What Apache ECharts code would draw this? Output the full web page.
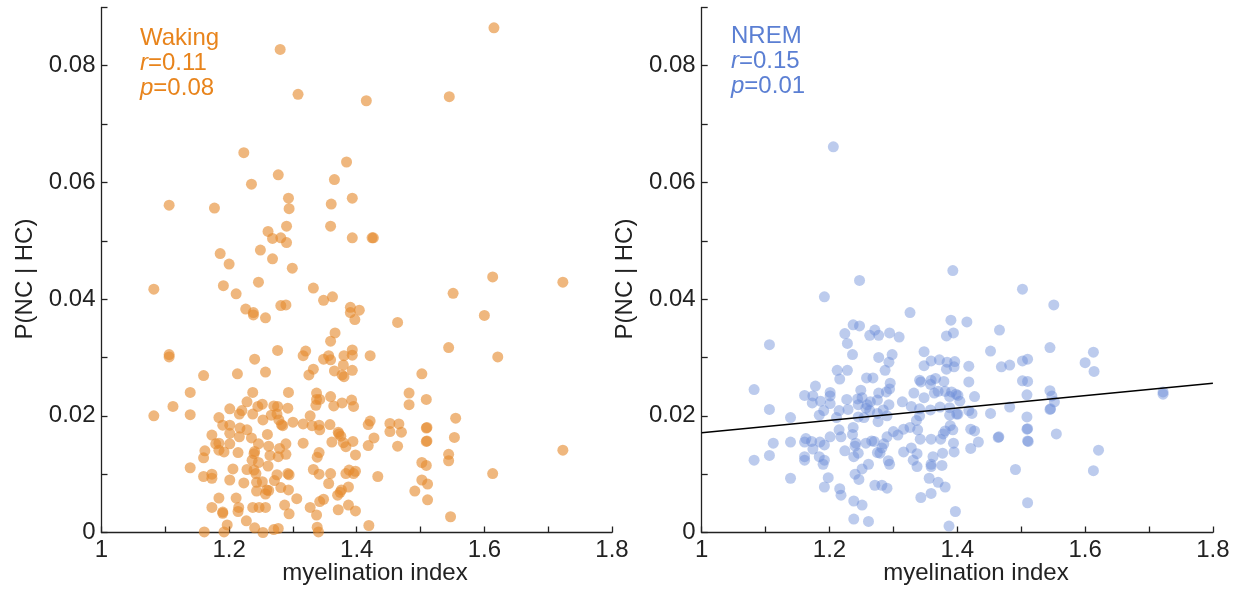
<!DOCTYPE html>
<html>
<head>
<meta charset="utf-8">
<title>P(NC | HC) vs myelination index</title>
<script src="https://cdn.jsdelivr.net/npm/echarts@6/dist/echarts.min.js"></script>
<style>
  html, body { margin: 0; padding: 0; background: #fff; }
  #chart { width: 1241px; height: 594px; }
</style>
</head>
<body>
<div id="chart"></div>
<script>
// Waking (left panel)
const wakeX = [
  1.280, 1.308, 1.223, 1.384, 1.277, 1.365, 1.235, 1.106, 1.177, 1.293,
  1.294, 1.360, 1.393, 1.290, 1.359, 1.261, 1.268, 1.281, 1.290, 1.393,
  1.186, 1.249, 1.200, 1.268, 1.299, 1.615, 1.415, 1.545, 1.424, 1.426,
  1.082, 1.191, 1.246, 1.211, 1.332, 1.348, 1.362, 1.390, 1.390, 1.397,
  1.404, 1.226, 1.238, 1.238, 1.257, 1.281, 1.289, 1.366, 1.359, 1.106,
  1.106, 1.276, 1.316, 1.320, 1.240, 1.348, 1.356, 1.359, 1.380, 1.393,
  1.393, 1.379, 1.332, 1.325, 1.365, 1.377, 1.380, 1.393, 1.160, 1.213,
  1.257, 1.139, 1.237, 1.293, 1.337, 1.337, 1.342, 1.359, 1.377, 1.392,
  1.395, 1.336, 1.364, 1.112, 1.082, 1.139, 1.184, 1.201, 1.216, 1.220,
  1.228, 1.237, 1.245, 1.252, 1.253, 1.266, 1.270, 1.276, 1.275, 1.278,
  1.282, 1.284, 1.292, 1.300, 1.316, 1.327, 1.330, 1.341, 1.342, 1.358,
  1.371, 1.372, 1.375, 1.379, 1.383, 1.394, 1.190, 1.201, 1.201, 1.217,
  1.216, 1.228, 1.173, 1.184, 1.179, 1.184, 1.201, 1.192, 1.235, 1.246,
  1.260, 1.262, 1.240, 1.239, 1.264, 1.279, 1.289, 1.277, 1.289, 1.316,
  1.341, 1.338, 1.361, 1.162, 1.160, 1.214, 1.236, 1.246, 1.261, 1.139,
  1.160, 1.173, 1.173, 1.206, 1.201, 1.228, 1.239, 1.242, 1.223, 1.243,
  1.252, 1.271, 1.275, 1.292, 1.294, 1.332, 1.341, 1.359, 1.383, 1.388,
  1.395, 1.356, 1.387, 1.243, 1.259, 1.262, 1.257, 1.281, 1.293, 1.376,
  1.374, 1.370, 1.184, 1.211, 1.306, 1.342, 1.348, 1.173, 1.190, 1.190,
  1.215, 1.214, 1.237, 1.247, 1.257, 1.287, 1.294, 1.327, 1.337, 1.371,
  1.387, 1.398, 1.227, 1.197, 1.240, 1.270, 1.277, 1.338, 1.161, 1.192,
  1.253, 1.340, 1.613, 1.723, 1.551, 1.464, 1.600, 1.544, 1.621, 1.421,
  1.502, 1.482, 1.482, 1.509, 1.421, 1.418, 1.452, 1.466, 1.452, 1.470,
  1.427, 1.418, 1.464, 1.509, 1.510, 1.509, 1.510, 1.553, 1.555, 1.544,
  1.544, 1.502, 1.509, 1.723, 1.398, 1.433, 1.398, 1.502, 1.511, 1.491,
  1.613, 1.511, 1.547, 1.419
];
const wakeY = [
  0.0828, 0.0751, 0.0651, 0.0635, 0.0613, 0.0605, 0.0597, 0.0561, 0.0556, 0.0573,
  0.0555, 0.0563, 0.0573, 0.0525, 0.0525, 0.0516, 0.0504, 0.0505, 0.0497, 0.0505,
  0.0478, 0.0484, 0.0460, 0.0469, 0.0453, 0.0865, 0.0740, 0.0747, 0.0505, 0.0505,
  0.0417, 0.0423, 0.0429, 0.0409, 0.0419, 0.0398, 0.0404, 0.0386, 0.0377, 0.0365,
  0.0381, 0.0383, 0.0377, 0.0373, 0.0368, 0.0389, 0.0390, 0.0342, 0.0328, 0.0305,
  0.0301, 0.0312, 0.0303, 0.0311, 0.0297, 0.0297, 0.0303, 0.0296, 0.0303, 0.0313,
  0.0304, 0.0287, 0.0280, 0.0270, 0.0277, 0.0270, 0.0267, 0.0278, 0.0269, 0.0272,
  0.0275, 0.0240, 0.0240, 0.0240, 0.0239, 0.0228, 0.0228, 0.0233, 0.0222, 0.0227,
  0.0216, 0.0218, 0.0217, 0.0216, 0.0200, 0.0202, 0.0197, 0.0212, 0.0203, 0.0209,
  0.0224, 0.0203, 0.0216, 0.0220, 0.0193, 0.0201, 0.0217, 0.0216, 0.0203, 0.0193,
  0.0185, 0.0183, 0.0213, 0.0189, 0.0186, 0.0200, 0.0183, 0.0184, 0.0176, 0.0185,
  0.0172, 0.0169, 0.0165, 0.0154, 0.0147, 0.0156, 0.0184, 0.0184, 0.0170, 0.0179,
  0.0164, 0.0176, 0.0167, 0.0153, 0.0152, 0.0141, 0.0152, 0.0138, 0.0162, 0.0152,
  0.0168, 0.0148, 0.0139, 0.0135, 0.0132, 0.0144, 0.0152, 0.0130, 0.0134, 0.0153,
  0.0137, 0.0129, 0.0155, 0.0140, 0.0128, 0.0137, 0.0124, 0.0120, 0.0114, 0.0111,
  0.0096, 0.0100, 0.0093, 0.0109, 0.0090, 0.0108, 0.0107, 0.0101, 0.0085, 0.0086,
  0.0087, 0.0089, 0.0099, 0.0101, 0.0099, 0.0108, 0.0100, 0.0101, 0.0101, 0.0107,
  0.0101, 0.0084, 0.0078, 0.0071, 0.0073, 0.0072, 0.0066, 0.0077, 0.0073, 0.0073,
  0.0069, 0.0064, 0.0059, 0.0059, 0.0058, 0.0053, 0.0057, 0.0043, 0.0035, 0.0033,
  0.0043, 0.0036, 0.0043, 0.0043, 0.0043, 0.0047, 0.0032, 0.0043, 0.0030, 0.0039,
  0.0047, 0.0037, 0.0020, 0.0013, 0.0008, 0.0005, 0.0007, 0.0009, 0.0001, 0.0001,
  0.0000, 0.0001, 0.0438, 0.0429, 0.0410, 0.0360, 0.0372, 0.0317, 0.0301, 0.0303,
  0.0272, 0.0239, 0.0219, 0.0228, 0.0191, 0.0185, 0.0187, 0.0186, 0.0173, 0.0172,
  0.0162, 0.0149, 0.0148, 0.0179, 0.0180, 0.0156, 0.0157, 0.0163, 0.0196, 0.0134,
  0.0123, 0.0120, 0.0115, 0.0141, 0.0133, 0.0096, 0.0105, 0.0090, 0.0083, 0.0071,
  0.0101, 0.0056, 0.0027, 0.0012
];

// NREM (right panel)
const nremX = [
  1.206, 1.247, 1.192, 1.393, 1.326, 1.390, 1.237, 1.247, 1.224, 1.271,
  1.294, 1.394, 1.502, 1.551, 1.415, 1.466, 1.263, 1.277, 1.309, 1.228,
  1.236, 1.106, 1.277, 1.298, 1.293, 1.348, 1.359, 1.372, 1.384, 1.396,
  1.383, 1.348, 1.383, 1.212, 1.228, 1.287, 1.216, 1.258, 1.268, 1.295,
  1.294, 1.341, 1.343, 1.359, 1.366, 1.358, 1.379, 1.082, 1.178, 1.161,
  1.174, 1.173, 1.186, 1.201, 1.201, 1.201, 1.191, 1.184, 1.249, 1.244,
  1.227, 1.251, 1.264, 1.277, 1.289, 1.293, 1.284, 1.275, 1.245, 1.257,
  1.259, 1.215, 1.229, 1.211, 1.245, 1.254, 1.263, 1.275, 1.290, 1.276,
  1.314, 1.328, 1.332, 1.348, 1.364, 1.370, 1.381, 1.391, 1.401, 1.341,
  1.358, 1.373, 1.388, 1.401, 1.341, 1.336, 1.106, 1.139, 1.082, 1.106,
  1.112, 1.139, 1.139, 1.161, 1.163, 1.172, 1.185, 1.192, 1.174, 1.161,
  1.161, 1.184, 1.192, 1.190, 1.201, 1.215, 1.218, 1.237, 1.236, 1.241,
  1.240, 1.224, 1.238, 1.245, 1.257, 1.266, 1.270, 1.285, 1.282, 1.275,
  1.279, 1.290, 1.300, 1.307, 1.316, 1.326, 1.338, 1.342, 1.359, 1.374,
  1.378, 1.381, 1.394, 1.395, 1.377, 1.362, 1.316, 1.328, 1.337, 1.331,
  1.337, 1.359, 1.376, 1.359, 1.294, 1.292, 1.261, 1.251, 1.240, 1.246,
  1.198, 1.192, 1.216, 1.218, 1.271, 1.282, 1.290, 1.356, 1.370, 1.381,
  1.343, 1.359, 1.238, 1.251, 1.238, 1.261, 1.397, 1.387, 1.545, 1.613,
  1.452, 1.600, 1.614, 1.502, 1.510, 1.469, 1.482, 1.418, 1.395, 1.418,
  1.502, 1.510, 1.545, 1.548, 1.552, 1.545, 1.546, 1.509, 1.427, 1.404,
  1.398, 1.388, 1.722, 1.722, 1.482, 1.452, 1.423, 1.418, 1.399, 1.388,
  1.509, 1.509, 1.510, 1.511, 1.510, 1.464, 1.465, 1.421, 1.427, 1.393,
  1.389, 1.433, 1.421, 1.555, 1.621, 1.613, 1.491, 1.510
];
const nremY = [
  0.0661, 0.0432, 0.0404, 0.0449, 0.0377, 0.0364, 0.0356, 0.0354, 0.0341, 0.0347,
  0.0342, 0.0342, 0.0417, 0.0390, 0.0361, 0.0347, 0.0338, 0.0338, 0.0335, 0.0324,
  0.0305, 0.0322, 0.0300, 0.0305, 0.0292, 0.0310, 0.0294, 0.0296, 0.0292, 0.0293,
  0.0337, 0.0286, 0.0280, 0.0278, 0.0278, 0.0278, 0.0263, 0.0265, 0.0265, 0.0256,
  0.0246, 0.0261, 0.0258, 0.0261, 0.0264, 0.0254, 0.0259, 0.0245, 0.0251, 0.0235,
  0.0234, 0.0222, 0.0225, 0.0240, 0.0234, 0.0221, 0.0209, 0.0201, 0.0244, 0.0229,
  0.0228, 0.0231, 0.0224, 0.0239, 0.0241, 0.0219, 0.0210, 0.0227, 0.0219, 0.0213,
  0.0219, 0.0209, 0.0211, 0.0197, 0.0198, 0.0197, 0.0209, 0.0204, 0.0200, 0.0190,
  0.0224, 0.0216, 0.0239, 0.0231, 0.0239, 0.0242, 0.0242, 0.0241, 0.0235, 0.0212,
  0.0210, 0.0215, 0.0214, 0.0203, 0.0200, 0.0192, 0.0211, 0.0197, 0.0124, 0.0132,
  0.0153, 0.0155, 0.0093, 0.0155, 0.0161, 0.0156, 0.0155, 0.0150, 0.0143, 0.0130,
  0.0124, 0.0130, 0.0124, 0.0117, 0.0164, 0.0176, 0.0164, 0.0180, 0.0168, 0.0153,
  0.0148, 0.0140, 0.0130, 0.0136, 0.0153, 0.0157, 0.0156, 0.0152, 0.0145, 0.0137,
  0.0136, 0.0164, 0.0173, 0.0167, 0.0177, 0.0180, 0.0176, 0.0160, 0.0160, 0.0160,
  0.0169, 0.0174, 0.0153, 0.0138, 0.0136, 0.0130, 0.0138, 0.0145, 0.0135, 0.0124,
  0.0113, 0.0117, 0.0115, 0.0113, 0.0117, 0.0123, 0.0117, 0.0109, 0.0100, 0.0091,
  0.0094, 0.0078, 0.0075, 0.0064, 0.0081, 0.0081, 0.0076, 0.0093, 0.0086, 0.0078,
  0.0060, 0.0067, 0.0054, 0.0047, 0.0023, 0.0019, 0.0036, 0.0011, 0.0317, 0.0309,
  0.0311, 0.0291, 0.0276, 0.0294, 0.0297, 0.0284, 0.0287, 0.0285, 0.0284, 0.0258,
  0.0260, 0.0259, 0.0243, 0.0234, 0.0224, 0.0211, 0.0212, 0.0236, 0.0233, 0.0225,
  0.0237, 0.0233, 0.0241, 0.0237, 0.0215, 0.0204, 0.0204, 0.0209, 0.0203, 0.0201,
  0.0198, 0.0177, 0.0178, 0.0156, 0.0157, 0.0163, 0.0164, 0.0177, 0.0174, 0.0176,
  0.0183, 0.0155, 0.0144, 0.0169, 0.0141, 0.0106, 0.0108, 0.0051
];

// regression line for NREM
const fitX = [1, 1.8];
const fitY = [0.0171, 0.0256];

const ORANGE = '#E8841C';
const BLUE = '#5B7FD3';

function zip(xs, ys) {
  return xs.map((x, i) => [x, ys[i]]);
}

const chart = echarts.init(document.getElementById('chart'), null, { renderer: 'canvas' });

function xAxisFor(gridIndex) {
  return {
    gridIndex,
    type: 'value',
    min: 1,
    max: 1.8,
    interval: 0.1,
    axisLine: { show: true, onZero: false, lineStyle: { color: '#222', width: 1.3 } },
    axisTick: { show: true, inside: true, length: 6, lineStyle: { color: '#222', width: 1.3 } },
    splitLine: { show: false },
    axisLabel: {
      margin: 6,
      color: '#222',
      fontSize: 24,
      fontFamily: 'Liberation Sans, Arial, sans-serif',
      formatter: v => {
        const r = Math.round(v * 10)
        return r % 2 === 0 ? String(r / 10) : ''
      }
    }
  }
}

function yAxisFor(gridIndex) {
  return {
    gridIndex,
    type: 'value',
    min: 0,
    max: 0.09,
    interval: 0.01,
    axisLine: { show: true, onZero: false, lineStyle: { color: '#222', width: 1.3 } },
    axisTick: { show: true, inside: true, length: 6, lineStyle: { color: '#222', width: 1.3 } },
    splitLine: { show: false },
    axisLabel: {
      margin: 6,
      color: '#222',
      fontSize: 24,
      fontFamily: 'Liberation Sans, Arial, sans-serif',
      formatter: v => {
        const r = Math.round(v * 100)
        if (r === 0) return '0'
        return r % 2 === 0 ? (r / 100).toFixed(2) : ''
      }
    }
  }
}

const textFont = 'Liberation Sans, Arial, sans-serif';

function statsText(x, y, label, r, p, color) {
  return {
    type: 'text',
    left: x,
    top: y,
    style: {
      text: label + '\n{i|r}=' + r + '\n{i|p}=' + p,
      fill: color,
      font: '24px ' + textFont,
      lineHeight: 25,
      rich: {
        i: { fontStyle: 'italic', fontSize: 24, fill: color, fontFamily: textFont, lineHeight: 25 }
      }
    }
  }
}

function axisTitle(x, y, text, rotated) {
  return {
    type: 'text',
    x,
    y,
    rotation: rotated ? Math.PI / 2 : 0,
    style: {
      text,
      fill: '#222',
      font: '24px ' + textFont,
      align: 'center',
      verticalAlign: 'middle'
    }
  }
}

chart.setOption({
  animation: false,
  backgroundColor: '#fff',
  grid: [
    { left: 101.5, top: 7.4, width: 510.5, height: 525.1 },
    { left: 701.7, top: 7.4, width: 511.2, height: 525.1 }
  ],
  xAxis: [xAxisFor(0), xAxisFor(1)],
  yAxis: [yAxisFor(0), yAxisFor(1)],
  graphic: [
    statsText(140, 26, 'Waking', '0.11', '0.08', ORANGE),
    statsText(731, 24, 'NREM', '0.15', '0.01', BLUE),
    axisTitle(25, 279, 'P(NC | HC)', true),
    axisTitle(625, 279, 'P(NC | HC)', true),
    axisTitle(375, 573, 'myelination index', false),
    axisTitle(976, 573, 'myelination index', false)
  ],
  series: [
    {
      name: 'Waking',
      type: 'scatter',
      xAxisIndex: 0,
      yAxisIndex: 0,
      symbolSize: 11,
      itemStyle: { color: '#E58A2E', opacity: 0.62 },
      data: zip(wakeX, wakeY)
    },
    {
      name: 'NREM',
      type: 'scatter',
      xAxisIndex: 1,
      yAxisIndex: 1,
      symbolSize: 11,
      itemStyle: { color: '#6A8BD6', opacity: 0.45 },
      data: zip(nremX, nremY)
    },
    {
      name: 'fit',
      type: 'line',
      xAxisIndex: 1,
      yAxisIndex: 1,
      symbol: 'none',
      lineStyle: { color: '#000', width: 1.5 },
      data: zip(fitX, fitY),
      z: 3
    }
  ]
})
</script>
</body>
</html>
